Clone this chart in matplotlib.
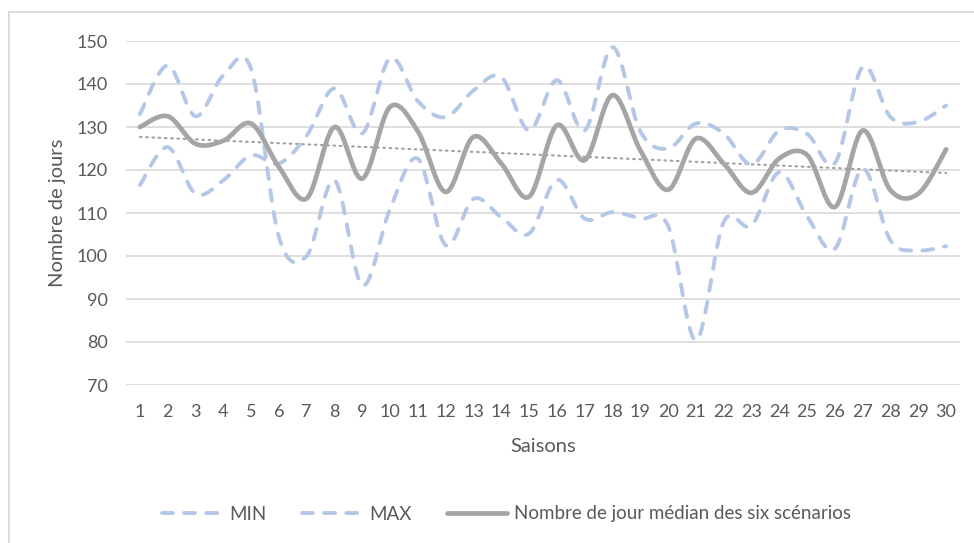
import numpy as np
import matplotlib.pyplot as plt
from matplotlib.patches import Rectangle

# data
saisons = list(range(1, 31))
min_jours = [116.5, 125.3, 114.5, 117.6, 123.4, 121.5, 128.0, 139.0, 128.5, 146.0,
             136.0, 132.3, 138.5, 141.6, 129.2, 140.9, 129.2, 148.6, 129.0, 125.0,
             130.8, 128.5, 121.3, 129.2, 128.4, 121.6, 144.0, 132.3, 131.2, 135.0]
max_jours = [133.0, 144.3, 132.5, 142.0, 143.5, 104.4, 100.0, 117.6, 93.2, 111.0,
             122.6, 102.5, 113.3, 109.0, 105.2, 117.7, 108.7, 110.2, 108.7, 107.0,
             80.4, 107.9, 107.1, 119.5, 109.2, 101.7, 120.3, 103.6, 101.3, 102.3]
median_jours = [130.0, 132.5, 126.1, 126.8, 130.8, 120.7, 113.4, 130.0, 118.0, 134.7,
                129.0, 114.9, 127.7, 121.5, 113.8, 130.4, 122.3, 137.4, 124.6, 115.4,
                127.3, 121.5, 114.7, 122.7, 123.5, 111.4, 129.2, 115.3, 114.5, 124.8]

y_ticks = list(range(70, 151, 10))

blue = "#B4C7E7"
grey = "#A5A5A5"
text_col = "#595959"


def smooth(x, y, n=30):
    # Excel-like smoothed line: Catmull-Rom segments as cubic Beziers
    x = np.asarray(x, float)
    y = np.asarray(y, float)
    px = np.concatenate([[x[0]], x, [x[-1]]])
    py = np.concatenate([[y[0]], y, [y[-1]]])
    t = np.linspace(0, 1, n)
    xs, ys = [], []
    for i in range(1, len(px) - 2):
        p0 = np.array([px[i], py[i]])
        p3 = np.array([px[i + 1], py[i + 1]])
        c1 = p0 + (p3 - np.array([px[i - 1], py[i - 1]])) / 6
        c2 = p3 - (np.array([px[i + 2], py[i + 2]]) - p0) / 6
        b = ((1 - t) ** 3)[:, None] * p0 + (3 * (1 - t) ** 2 * t)[:, None] * c1 \
            + (3 * (1 - t) * t ** 2)[:, None] * c2 + (t ** 3)[:, None] * p3
        xs.append(b[:, 0])
        ys.append(b[:, 1])
    return np.concatenate(xs), np.concatenate(ys)


plt.rcParams['font.family'] = ['Lato', 'DejaVu Sans']

fig = plt.figure(figsize=(9.74, 5.43), dpi=100)
fig.patches.append(Rectangle((9 / 974, -0.05), 1.2, 1 - 12 / 543 + 0.05,
                             transform=fig.transFigure, fill=False,
                             edgecolor="#D9D9D9", linewidth=1.3))
ax = fig.add_axes([126 / 974, 1 - 385 / 543, (960 - 126) / 974, (385 - 41) / 543])

for yt in y_ticks:
    ax.axhline(yt, color="#D9D9D9", linewidth=1.2, zorder=0)

dash = (0, (2.8, 2.9))
xs, ys = smooth(saisons, min_jours)
ax.plot(xs, ys, color=blue, linewidth=2.8, linestyle=dash,
        dash_capstyle="round", label="MIN")
xs, ys = smooth(saisons, max_jours)
ax.plot(xs, ys, color=blue, linewidth=2.8, linestyle=dash,
        dash_capstyle="round", label="MAX")
xs, ys = smooth(saisons, median_jours)
ax.plot(xs, ys, color=grey, linewidth=3.4, solid_capstyle="round",
        label="Nombre de jour médian des six scénarios")

# linear trendline of the median
coef = np.polyfit(saisons, median_jours, 1)
trend = np.polyval(coef, saisons)
ax.plot(saisons, trend, color="#A0A0A0", linewidth=1.5,
        linestyle=(0, (0.8, 2.2)), dash_capstyle="round", zorder=1)

ax.set_xlim(0.5, 30.5)
ax.set_ylim(70, 150)
ax.set_xticks(saisons)
ax.set_yticks(y_ticks)
ax.tick_params(axis="both", length=0, labelsize=13, colors=text_col)
ax.tick_params(axis="x", pad=14)
ax.tick_params(axis="y", pad=13)
for s in ax.spines.values():
    s.set_visible(False)

ax.set_xlabel("Saisons", fontsize=14.5, color=text_col, labelpad=13)
ax.set_ylabel("Nombre de jours", fontsize=14.5, color=text_col, labelpad=8)

fig.legend(loc="center", bbox_to_anchor=(0.52, 1 - 514 / 543), ncol=3,
           frameon=False, fontsize=13.5, labelcolor=text_col,
           handlelength=3.2, columnspacing=1.9, handletextpad=0.37)

fig.savefig("out.png", dpi=100)
